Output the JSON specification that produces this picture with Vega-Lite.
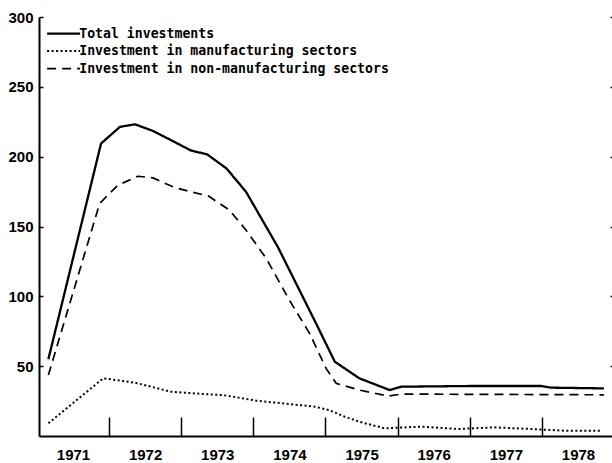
{
  "$schema": "https://vega.github.io/schema/vega-lite/v6.json",
  "width": 575,
  "height": 419,
  "autosize": {"type": "none"},
  "padding": {"left": 39, "top": 17, "right": 0, "bottom": 27},
  "background": "white",
  "config": {"view": {"stroke": null}, "axis": {"grid": false}},
  "data": {
    "values": [
      {"series": "Total investments", "year": 1971.16, "value": 55},
      {"series": "Total investments", "year": 1971.89, "value": 209.4},
      {"series": "Total investments", "year": 1972.15, "value": 221.3},
      {"series": "Total investments", "year": 1972.36, "value": 223.2},
      {"series": "Total investments", "year": 1972.61, "value": 218.4},
      {"series": "Total investments", "year": 1972.91, "value": 210.5},
      {"series": "Total investments", "year": 1973.14, "value": 204.3},
      {"series": "Total investments", "year": 1973.36, "value": 201.7},
      {"series": "Total investments", "year": 1973.63, "value": 191.5},
      {"series": "Total investments", "year": 1973.9, "value": 174.8},
      {"series": "Total investments", "year": 1974.34, "value": 135.4},
      {"series": "Total investments", "year": 1974.64, "value": 104.4},
      {"series": "Total investments", "year": 1974.87, "value": 80.6},
      {"series": "Total investments", "year": 1975.13, "value": 53.2},
      {"series": "Total investments", "year": 1975.47, "value": 41.3},
      {"series": "Total investments", "year": 1975.89, "value": 32.9},
      {"series": "Total investments", "year": 1976.05, "value": 35.3},
      {"series": "Total investments", "year": 1977.02, "value": 35.8},
      {"series": "Total investments", "year": 1977.99, "value": 35.8},
      {"series": "Total investments", "year": 1978.13, "value": 34.6},
      {"series": "Total investments", "year": 1978.86, "value": 34.1},
      {"series": "Investment in manufacturing sectors", "year": 1971.16, "value": 9.1},
      {"series": "Investment in manufacturing sectors", "year": 1971.92, "value": 41.3},
      {"series": "Investment in manufacturing sectors", "year": 1972.17, "value": 39.6},
      {"series": "Investment in manufacturing sectors", "year": 1972.4, "value": 37.7},
      {"series": "Investment in manufacturing sectors", "year": 1972.86, "value": 31.7},
      {"series": "Investment in manufacturing sectors", "year": 1973.32, "value": 30},
      {"series": "Investment in manufacturing sectors", "year": 1973.58, "value": 29.3},
      {"series": "Investment in manufacturing sectors", "year": 1974.04, "value": 25.3},
      {"series": "Investment in manufacturing sectors", "year": 1974.5, "value": 22.9},
      {"series": "Investment in manufacturing sectors", "year": 1974.85, "value": 21},
      {"series": "Investment in manufacturing sectors", "year": 1975.05, "value": 18.6},
      {"series": "Investment in manufacturing sectors", "year": 1975.27, "value": 13.8},
      {"series": "Investment in manufacturing sectors", "year": 1975.47, "value": 10.2},
      {"series": "Investment in manufacturing sectors", "year": 1975.82, "value": 5.5},
      {"series": "Investment in manufacturing sectors", "year": 1976.33, "value": 6.7},
      {"series": "Investment in manufacturing sectors", "year": 1976.84, "value": 5},
      {"series": "Investment in manufacturing sectors", "year": 1977.34, "value": 6.2},
      {"series": "Investment in manufacturing sectors", "year": 1977.94, "value": 4.8},
      {"series": "Investment in manufacturing sectors", "year": 1978.31, "value": 3.8},
      {"series": "Investment in manufacturing sectors", "year": 1978.82, "value": 3.8},
      {"series": "Investment in non-manufacturing sectors", "year": 1971.16, "value": 43.6},
      {"series": "Investment in non-manufacturing sectors", "year": 1971.87, "value": 166.4},
      {"series": "Investment in non-manufacturing sectors", "year": 1972.12, "value": 179.5},
      {"series": "Investment in non-manufacturing sectors", "year": 1972.4, "value": 186},
      {"series": "Investment in non-manufacturing sectors", "year": 1972.61, "value": 184.8},
      {"series": "Investment in non-manufacturing sectors", "year": 1972.91, "value": 177.9},
      {"series": "Investment in non-manufacturing sectors", "year": 1973.14, "value": 174.8},
      {"series": "Investment in non-manufacturing sectors", "year": 1973.38, "value": 171.8},
      {"series": "Investment in non-manufacturing sectors", "year": 1973.67, "value": 161.7},
      {"series": "Investment in non-manufacturing sectors", "year": 1973.9, "value": 147.4},
      {"series": "Investment in non-manufacturing sectors", "year": 1974.18, "value": 127.1},
      {"series": "Investment in non-manufacturing sectors", "year": 1974.5, "value": 97.3},
      {"series": "Investment in non-manufacturing sectors", "year": 1974.78, "value": 73.5},
      {"series": "Investment in non-manufacturing sectors", "year": 1975.01, "value": 48.4},
      {"series": "Investment in non-manufacturing sectors", "year": 1975.15, "value": 37.7},
      {"series": "Investment in non-manufacturing sectors", "year": 1975.47, "value": 32.9},
      {"series": "Investment in non-manufacturing sectors", "year": 1975.87, "value": 28.6},
      {"series": "Investment in non-manufacturing sectors", "year": 1976.05, "value": 30},
      {"series": "Investment in non-manufacturing sectors", "year": 1978.86, "value": 29.5}
    ]
  },
  "encoding": {
    "x": {
      "field": "year",
      "type": "quantitative",
      "scale": {"domain": [1971.03, 1979], "nice": false, "zero": false},
      "axis": {
        "title": null,
        "values": [1972, 1973, 1974, 1975, 1976, 1977, 1978, 1979],
        "labelExpr": "toString(datum.value - 1)",
        "labelOffset": -36,
        "tickSize": -19,
        "tickWidth": 1.5,
        "tickColor": "black",
        "domainColor": "black",
        "domainWidth": 2,
        "labelFont": "Liberation Sans",
        "labelFontWeight": "bold",
        "labelFontSize": 15,
        "labelColor": "black",
        "labelPadding": 30,
        "labelFlush": false,
        "labelOverlap": false,
        "labelBound": false
      }
    }
  },
  "layer": [
    {
      "mark": {"type": "line", "color": "black", "strokeJoin": "round"},
      "encoding": {
        "y": {
          "field": "value",
          "type": "quantitative",
          "scale": {"domain": [0, 300], "nice": false},
          "axis": {
            "orient": "left",
            "title": null,
            "values": [50, 100, 150, 200, 250, 300],
            "tickSize": -4,
            "tickWidth": 1.5,
            "tickColor": "black",
            "domainColor": "black",
            "domainWidth": 2,
            "labelFont": "Liberation Sans",
            "labelFontWeight": "bold",
            "labelFontSize": 15,
            "labelColor": "black",
            "labelPadding": 10
          }
        },
        "strokeDash": {
          "field": "series",
          "type": "nominal",
          "scale": {
            "domain": ["Total investments", "Investment in manufacturing sectors", "Investment in non-manufacturing sectors"],
            "range": [[1, 0], [2, 2.5], [9, 6]]
          },
          "legend": {
            "title": null,
            "orient": "none",
            "legendX": 18,
            "legendY": 10,
            "padding": 0,
            "symbolType": "M-4,0H4",
            "symbolSize": 68,
            "symbolStrokeColor": "black",
            "symbolStrokeWidth": 2,
            "labelFont": "DejaVu Sans Mono",
            "labelFontWeight": "bold",
            "labelFontSize": 13.2,
            "labelColor": "black",
            "labelOffset": 9,
            "labelLimit": 500,
            "rowPadding": 3.5
          }
        },
        "strokeWidth": {
          "field": "series",
          "type": "nominal",
          "scale": {
            "domain": ["Total investments", "Investment in manufacturing sectors", "Investment in non-manufacturing sectors"],
            "range": [2.3, 1.7, 2.3]
          },
          "legend": null
        }
      }
    },
    {
      "mark": {"type": "line", "opacity": 0},
      "encoding": {
        "y": {
          "field": "value",
          "type": "quantitative",
          "axis": {
            "orient": "right",
            "title": null,
            "values": [50, 100, 150, 200, 250, 300],
            "labels": false,
            "domain": false,
            "tickSize": -4,
            "tickWidth": 1.5,
            "tickColor": "black"
          }
        },
        "detail": {"field": "series", "type": "nominal"}
      }
    }
  ],
  "resolve": {"axis": {"y": "independent"}}
}
